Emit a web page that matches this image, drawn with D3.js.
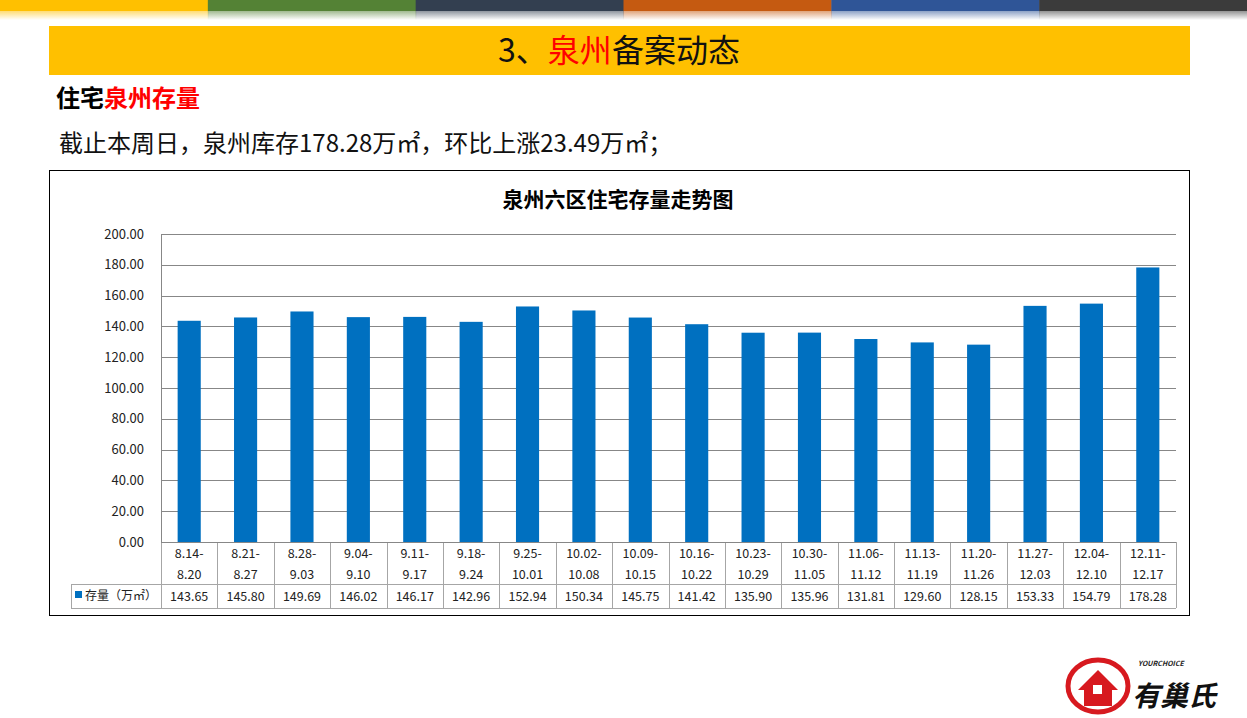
<!DOCTYPE html>
<html>
<head>
<meta charset="utf-8">
<script src="https://cdn.jsdelivr.net/npm/d3@7"></script>
<style>
  html, body { margin: 0; padding: 0; background: #fff; }
  svg { display: block; }
  text { font-family: "Noto Sans CJK SC", "Noto Sans", sans-serif; }
</style>
</head>
<body>
<svg id="c" width="1247" height="718"></svg>
<script>
const categoriesStart = ["8.14-","8.21-","8.28-","9.04-","9.11-","9.18-","9.25-","10.02-","10.09-","10.16-","10.23-","10.30-","11.06-","11.13-","11.20-","11.27-","12.04-","12.11-"];
const categoriesEnd = ["8.20","8.27","9.03","9.10","9.17","9.24","10.01","10.08","10.15","10.22","10.29","11.05","11.12","11.19","11.26","12.03","12.10","12.17"];
const stockValues = [143.65,145.80,149.69,146.02,146.17,142.96,152.94,150.34,145.75,141.42,135.90,135.96,131.81,129.60,128.15,153.33,154.79,178.28];
const yTicks = [0,20,40,60,80,100,120,140,160,180,200];
const topBarColors = ["#FFC000","#548235","#333F50","#C55A11","#2F5597","#3B3B3B"];
const seriesName = "存量（万㎡）";

(function () {
const svg = d3.select("#c");
const W = 1247;

// top colour bars
const defs = svg.append("defs");
const segW = W / topBarColors.length;
topBarColors.forEach((col, i) => {
  const g = defs.append("linearGradient").attr("id", "fade" + i).attr("x1", 0).attr("y1", 0).attr("x2", 0).attr("y2", 1);
  g.append("stop").attr("offset", "0%").attr("stop-color", col).attr("stop-opacity", 0.55);
  g.append("stop").attr("offset", "100%").attr("stop-color", col).attr("stop-opacity", 0);
  svg.append("rect").attr("x", i * segW).attr("y", 0).attr("width", segW + 0.5).attr("height", 11).attr("fill", col);
  svg.append("rect").attr("x", i * segW).attr("y", 11).attr("width", segW + 0.5).attr("height", 9).attr("fill", `url(#fade${i})`);
});

// yellow banner
svg.append("rect").attr("x", 49).attr("y", 26).attr("width", 1141).attr("height", 49).attr("fill", "#FFC000");
const t1 = svg.append("text").attr("x", 619).attr("y", 62).attr("text-anchor", "middle")
  .attr("font-size", 32).attr("fill", "#111");
t1.append("tspan").text("3、");
t1.append("tspan").attr("fill", "#FF0000").text("泉州");
t1.append("tspan").text("备案动态");

// section heading
const t2 = svg.append("text").attr("x", 56).attr("y", 107).attr("font-size", 24).attr("font-weight", "bold").attr("fill", "#000");
t2.append("tspan").text("住宅");
t2.append("tspan").attr("fill", "#FF0000").text("泉州存量");

svg.append("text").attr("x", 59).attr("y", 152).attr("font-size", 24).attr("fill", "#111")
  .text("截止本周日，泉州库存178.28万㎡，环比上涨23.49万㎡；");

// chart frame
svg.append("rect").attr("x", 49.5).attr("y", 170.5).attr("width", 1140).attr("height", 445)
  .attr("fill", "#fff").attr("stroke", "#000").attr("stroke-width", 1);

svg.append("text").attr("x", 618).attr("y", 207).attr("text-anchor", "middle")
  .attr("font-size", 21).attr("font-weight", "bold").attr("fill", "#000").text("泉州六区住宅存量走势图");

// plot
const pLeft = 161, pRight = 1176, pTop = 234, pBottom = 542;
const x = d3.scaleBand().domain(d3.range(stockValues.length)).range([pLeft, pRight]).paddingInner(0).paddingOuter(0);
const y = d3.scaleLinear().domain([0, 200]).range([pBottom, pTop]);
const bw = x.bandwidth() * 0.41;
const grid = "#878787";

svg.append("g").selectAll("line").data(yTicks).join("line")
  .attr("x1", pLeft).attr("x2", pRight)
  .attr("y1", d => Math.round(y(d)) + 0.5).attr("y2", d => Math.round(y(d)) + 0.5)
  .attr("stroke", grid).attr("stroke-width", 1);

svg.append("g").selectAll("text").data(yTicks).join("text")
  .attr("x", 144).attr("y", d => y(d) + 4.5).attr("text-anchor", "end")
  .attr("font-size", 13).attr("fill", "#222").text(d => d.toFixed(2));

svg.append("line").attr("x1", pLeft + 0.5).attr("x2", pLeft + 0.5).attr("y1", pTop).attr("y2", pBottom).attr("stroke", grid);

svg.append("g").selectAll("rect").data(stockValues).join("rect")
  .attr("x", (d, i) => x(i) + (x.bandwidth() - bw) / 2)
  .attr("width", bw)
  .attr("y", d => y(d))
  .attr("height", d => y(0) - y(d))
  .attr("fill", "#0070C0");

// data table
const tcol = "#a6a6a6";
const r1b = 584, r2b = 608, tl = 71;
const tg = svg.append("g");
d3.range(stockValues.length + 1).forEach(i => {
  const xx = Math.round(i < stockValues.length ? x(i) : pRight) + 0.5;
  tg.append("line").attr("x1", xx).attr("x2", xx).attr("y1", pBottom).attr("y2", r2b).attr("stroke", tcol);
});
tg.append("line").attr("x1", tl + 0.5).attr("x2", tl + 0.5).attr("y1", r1b).attr("y2", r2b).attr("stroke", tcol);
tg.append("line").attr("x1", tl).attr("x2", pRight).attr("y1", r1b + 0.5).attr("y2", r1b + 0.5).attr("stroke", tcol);
tg.append("line").attr("x1", tl).attr("x2", pRight).attr("y1", r2b + 0.5).attr("y2", r2b + 0.5).attr("stroke", tcol);
svg.append("line").attr("x1", pLeft).attr("x2", pRight).attr("y1", pBottom + 0.5).attr("y2", pBottom + 0.5).attr("stroke", grid);

const cx = i => x(i) + x.bandwidth() / 2;
tg.selectAll("text.c1").data(categoriesStart).join("text").attr("class", "c1")
  .attr("x", (d, i) => cx(i)).attr("y", 558).attr("text-anchor", "middle")
  .attr("font-size", 12.5).attr("fill", "#222").text(d => d);
tg.selectAll("text.c2").data(categoriesEnd).join("text").attr("class", "c2")
  .attr("x", (d, i) => cx(i)).attr("y", 579).attr("text-anchor", "middle")
  .attr("font-size", 12.5).attr("fill", "#222").text(d => d);
tg.selectAll("text.v").data(stockValues).join("text").attr("class", "v")
  .attr("x", (d, i) => cx(i)).attr("y", 601).attr("text-anchor", "middle")
  .attr("font-size", 12.5).attr("fill", "#222").text(d => d.toFixed(2));

tg.append("rect").attr("x", 75).attr("y", 591).attr("width", 7).attr("height", 7).attr("fill", "#0070C0");
tg.append("text").attr("x", 85).attr("y", 600).attr("font-size", 12).attr("fill", "#222").text(seriesName);

// logo
const lg = svg.append("g");
lg.append("ellipse").attr("cx", 1098).attr("cy", 686).attr("rx", 30).attr("ry", 26).attr("fill", "none").attr("stroke", "#D7191F").attr("stroke-width", 5);
lg.append("path").attr("d", "M1078,690 L1098,670 L1118,690 L1112,690 L1112,706 L1084,706 L1084,690 Z").attr("fill", "#D7191F");
lg.append("rect").attr("x", 1093).attr("y", 685).attr("width", 9).attr("height", 9).attr("fill", "#fff");
lg.append("text").attr("x", 1138).attr("y", 666).attr("font-size", 7).attr("font-style", "italic").attr("font-weight", "bold").attr("fill", "#222").text("YOURCHOICE");
lg.append("text").attr("x", 1132).attr("y", 706).attr("font-size", 28).attr("font-weight", "bold").attr("font-style", "italic").attr("fill", "#111").text("有巢氏");
})();
</script>
</body>
</html>
